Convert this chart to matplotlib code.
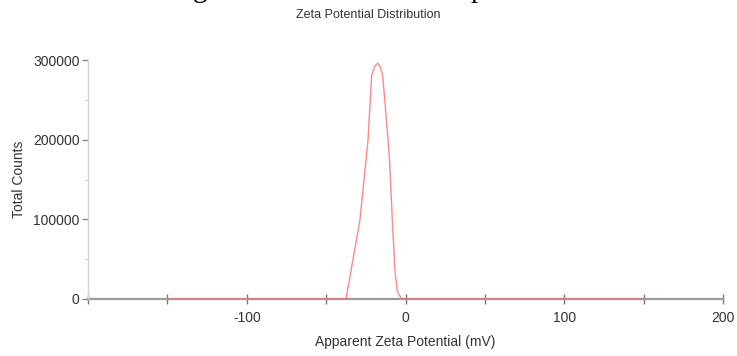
"""
plot.py
Zeta potential distribution (total counts vs apparent zeta potential).
"""

import matplotlib.pyplot as plt
from matplotlib.ticker import MultipleLocator

# courbe (mV, counts)
ZETA_MV = [-148, -37.5, -28.7, -23.6, -21.3, -19.5, -17.5, -15.8,
           -14.4, -11.9, -10.2, -8.3, -6.6, -5.1, -2.4, 148]
COUNTS = [0, 0, 99000, 200000, 281000, 292000, 296000, 291000,
          281000, 222000, 180000, 99000, 34000, 9000, 0, 0]

X_TICKS = [-100, 0, 100, 200]
Y_TICKS = [0, 100000, 200000, 300000]

TXT = '#333333'

plt.rcParams['font.family'] = ['Liberation Sans', 'DejaVu Sans']

fig = plt.figure(figsize=(7.37, 3.56), dpi=100)
ax = fig.add_axes([88 / 737, 1 - 299 / 356, (723 - 88) / 737, (299 - 60) / 356])

ax.plot(ZETA_MV, COUNTS, color='#ff6a6a', lw=1.0, alpha=0.8, zorder=3)

ax.set_xlim(-200, 200)
ax.set_ylim(0, 300000)

for side in ('top', 'right'):
    ax.spines[side].set_visible(False)
ax.spines['left'].set_color('#d4d4d4')
ax.spines['left'].set_linewidth(1.0)
ax.spines['bottom'].set_color('#9a9a9a')
ax.spines['bottom'].set_linewidth(1.6)
ax.spines['bottom'].set_zorder(2)

ax.set_xticks(X_TICKS)
ax.set_xticklabels([str(v) for v in X_TICKS])
ax.xaxis.set_minor_locator(MultipleLocator(50))
ax.tick_params(axis='x', which='both', direction='inout', length=7,
               width=1.0, color='#777777', pad=5, labelsize=10, labelcolor=TXT)

ax.set_yticks(Y_TICKS)
ax.set_yticklabels([str(v) for v in Y_TICKS])
ax.yaxis.set_minor_locator(MultipleLocator(50000))
ax.tick_params(axis='y', which='major', direction='out', length=4,
               width=1.0, color='#888888', pad=2, labelsize=10, labelcolor=TXT)
ax.tick_params(axis='y', which='minor', direction='out', length=2,
               width=0.8, color='#cccccc')

ax.set_xlabel('Apparent Zeta Potential (mV)', fontsize=10, color=TXT, labelpad=7)
ax.set_ylabel('Total Counts', fontsize=10, color=TXT, labelpad=5)

fig.text(368 / 737, 1 - 15 / 356, 'Zeta Potential Distribution',
         ha='center', va='center', fontsize=9, color=TXT)

# bas de la légende en serif coupée en haut de l'image
fig.text(200 / 737, 1 + 3 / 356, 'g', ha='center', va='baseline',
         fontsize=21, family='Liberation Serif', color='black')
fig.text(478 / 737, 1 + 3 / 356, 'p', ha='center', va='baseline',
         fontsize=21, family='Liberation Serif', color='black')

fig.savefig('out.png', dpi=100)
